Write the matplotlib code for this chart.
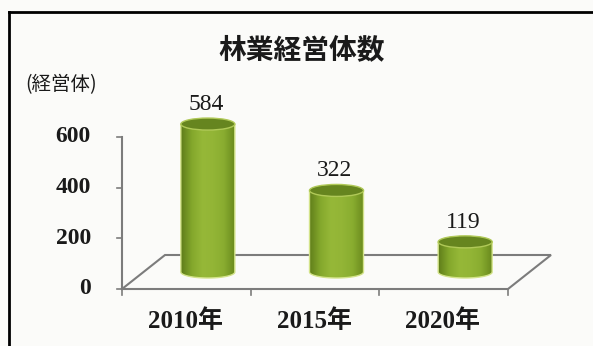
import numpy as np
import matplotlib
matplotlib.use("Agg")
import matplotlib.pyplot as plt
from matplotlib.colors import LinearSegmentedColormap
from matplotlib.lines import Line2D
from matplotlib.patches import Ellipse, PathPatch
from matplotlib.path import Path

# データ
years = ["2010年", "2015年", "2020年"]
values = [584, 322, 119]
y_ticks = [0, 200, 400, 600]
title = "林業経営体数"
unit_label = "(経営体)"

W, H = 593, 346
fig = plt.figure(figsize=(W / 100, H / 100), dpi=100, facecolor="#fbfbf9")
ax = fig.add_axes([0, 0, 1, 1])
ax.set_facecolor("none")
ax.axis("off")

# ピクセル <-> データの換算
px_x = 386 / 3
px_y = 152 / 600
xlim = (-0.5 - 122 / px_x, -0.5 + (W - 122) / px_x)
ylim = (-57 / px_y, 600 + 137 / px_y)

depth_x = 43 / px_x
depth_y = 34 / px_y
n = len(years)
x0, x1 = -0.5, n - 0.5
line_c = "#7c7c7c"
serif = ["Liberation Serif", "Noto Sans CJK JP"]

# 床
ax.plot([x0, x1, x1 + depth_x, x0 + depth_x, x0], [0, 0, depth_y, depth_y, 0],
        color=line_c, lw=1.5, zorder=1, solid_joinstyle="miter")

# 縦軸
ax.plot([x0, x0], [0, max(y_ticks)], color=line_c, lw=1.5, zorder=1)
for t in y_ticks:
    ax.plot([x0 - 5 / px_x, x0], [t, t], color=line_c, lw=1.2, zorder=1)
    ax.annotate(str(t), (x0, t), xytext=(-31, 0), textcoords="offset pixels",
                ha="right", va="center", fontsize=17, fontweight="bold",
                family="Liberation Serif", color="#1a1a1a")

# 横軸の目盛
for k in range(n + 1):
    ax.plot([x0 + k, x0 + k], [0, -6 / px_y], color=line_c, lw=1.2, zorder=1)
for i, yr in enumerate(years):
    ax.annotate(yr, (i, 0), xytext=(-1, -32), textcoords="offset pixels",
                ha="center", va="center", fontsize=18, fontweight="bold",
                family=serif, color="#1a1a1a")

# 円柱
cyl_cmap = LinearSegmentedColormap.from_list(
    "cyl", ["#5f7d1a", "#84a82c", "#96b838", "#93b536", "#89ad30", "#6b8b1e"])
grad = np.linspace(0, 1, 64).reshape(1, -1)
w = 54 / px_x
eh = 12 / px_y
base = depth_y / 2
for i, v in enumerate(values):
    c = i + depth_x / 2
    top = base + v
    t = np.linspace(np.pi, 2 * np.pi, 40)
    verts = [(c - w / 2, top)] + list(zip(c + w / 2 * np.cos(t), base + eh / 2 * np.sin(t)))
    verts += [(c + w / 2, top), (c - w / 2, top)]
    body = PathPatch(Path(verts), fc="none", ec="#d3e38a", lw=1.0, zorder=3)
    ax.add_patch(body)
    im = ax.imshow(grad, cmap=cyl_cmap, extent=[c - w / 2, c + w / 2, base - eh / 2, top],
                   aspect="auto", interpolation="bicubic", zorder=2)
    im.set_clip_path(body)
    ax.add_patch(Ellipse((c, top), w, eh, fc="#66851f", ec="#b0c958", lw=1.0, zorder=4))
    ax.annotate(str(v), (c, top + eh / 2), xytext=(-2, 8), textcoords="offset pixels",
                ha="center", va="baseline", fontsize=17, family="Liberation Serif",
                color="#1a1a1a")

ax.set_xlim(*xlim)
ax.set_ylim(*ylim)

# タイトル・単位
fig.text(302 / W, 1 - 50 / H, title, ha="center", va="center", fontsize=20,
         fontweight="bold", family="Noto Sans CJK JP", color="#1a1a1a")
fig.text(25 / W, 1 - 85 / H, unit_label, ha="left", va="center", fontsize=14,
         family="Noto Sans CJK JP", color="#1a1a1a")

# 外枠
fig.add_artist(Line2D([9 / W, 9 / W], [0, 1 - 12 / H], transform=fig.transFigure,
                      color="black", lw=2))
fig.add_artist(Line2D([9 / W, 1], [1 - 12 / H, 1 - 12 / H], transform=fig.transFigure,
                      color="black", lw=2))

fig.savefig("out.png", dpi=100, facecolor=fig.get_facecolor())
